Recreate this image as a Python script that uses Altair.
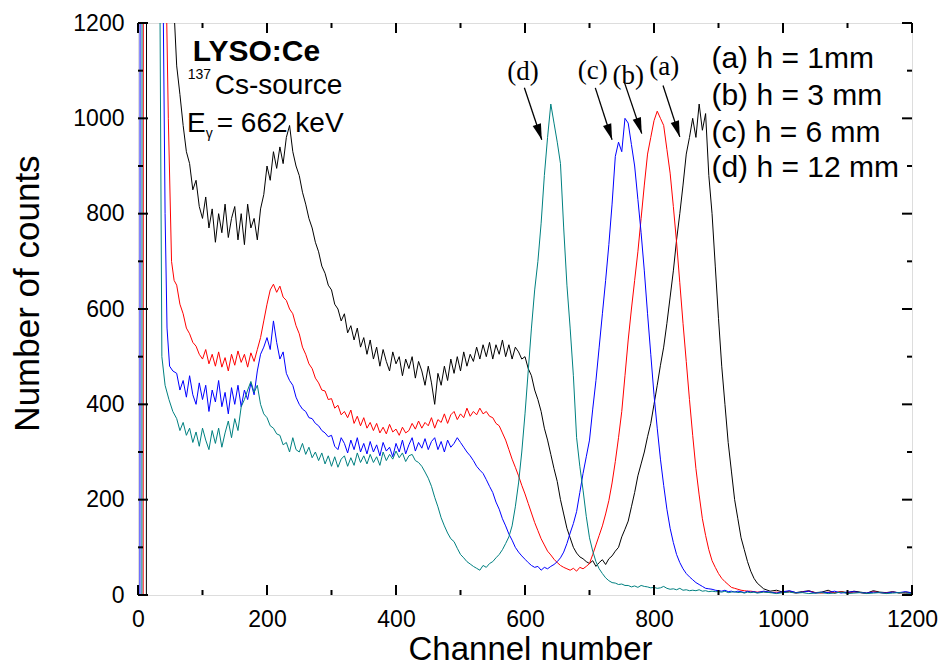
import altair as alt
import pandas as pd

FONT = "Liberation Sans"
SERIF = "Liberation Serif"

SERIES = ["a", "b", "c", "d"]
COLORS = ["#000000", "#ff0000", "#0000ff", "#008080"]

# channel grid after the low-energy rise: fine (5) up to 955, then coarse (10)
GRID = list(range(60, 960, 5)) + list(range(960, 1201, 10))

# (a) h = 1 mm  (black)
A_HEAD_CH = [0, 13, 14, 40, 50, 55]
A_HEAD = [0, 0, 6000, 2500, 1500, 1250]
A_COUNTS = [
    1110, 1050, 985, 930, 905, 850, 870, 815, 790, 835, 770, 810, 740, 800, 760, 820, 750, 790, 815, 745,
    800, 735, 820, 770, 790, 745, 810, 840, 900, 870, 930, 895, 940, 905, 960, 985, 930, 900, 880, 845,
    820, 790, 770, 740, 720, 690, 675, 650, 640, 610, 600, 575, 590, 550, 565, 535, 560, 520, 540, 505,
    535, 495, 520, 480, 515, 490, 470, 510, 485, 500, 460, 495, 475, 500, 455, 490, 470, 440, 480, 445,
    400, 465, 440, 480, 450, 495, 465, 500, 470, 510, 480, 505, 490, 520, 495, 525, 500, 530, 495, 525,
    505, 535, 500, 525, 495, 520, 510, 495, 500, 475, 460, 430, 410, 385, 350, 325, 295, 265, 238, 200,
    170, 140, 120, 100, 88, 80, 76, 70, 66, 72, 60, 68, 74, 64, 76, 82, 92, 100, 122, 138,
    155, 185, 215, 250, 275, 300, 332, 360, 400, 440, 482, 520, 570, 625, 680, 745, 800, 860, 925, 960,
    1000, 960, 1030, 975, 1010, 880, 800, 690, 580, 480, 400, 320, 260, 200, 160, 120, 95, 70, 50, 35,
    25, 13, 8, 10, 6, 8, 5, 7, 9, 5, 6, 10, 4, 7, 5, 8, 6, 4, 9, 6, 5, 7, 4, 6, 5]

# (b) h = 3 mm  (red)
B_HEAD_CH = [0, 8, 9, 35, 44, 47, 52, 56]
B_HEAD = [0, 0, 6000, 2500, 1250, 1000, 700, 660]
B_COUNTS = [
    650, 610, 590, 560, 548, 530, 522, 505, 495, 515, 485, 505, 480, 510, 478, 498, 470, 505, 482, 512,
    488, 505, 478, 508, 490, 515, 540, 575, 610, 640, 652, 635, 648, 625, 618, 600, 590, 565, 548, 520,
    505, 485, 475, 455, 445, 430, 428, 410, 412, 392, 398, 378, 385, 372, 388, 360, 375, 355, 372, 350,
    362, 345, 360, 340, 352, 338, 358, 342, 348, 335, 352, 340, 345, 360, 348, 365, 350, 362, 355, 372,
    350, 368, 362, 380, 360, 378, 385, 368, 380, 372, 392, 375, 385, 378, 392, 380, 385, 375, 372, 360,
    355, 340, 325, 305, 285, 268, 250, 230, 212, 192, 172, 152, 135, 118, 105, 92, 84, 75, 68, 62,
    58, 55, 52, 56, 50, 58, 55, 60, 66, 85, 105, 125, 145, 170, 198, 235, 280, 330, 385, 460,
    535, 600, 660, 720, 790, 860, 925, 960, 995, 1015, 1000, 985, 935, 885, 815, 740, 655, 570, 490, 410,
    335, 265, 210, 160, 125, 95, 72, 58, 45, 35, 28, 22, 16, 14, 12, 10, 9, 8, 8, 7,
    6, 7, 5, 6, 5, 7, 4, 6, 8, 5, 4, 6, 5, 7, 4, 6, 5, 3, 7, 5, 4, 6, 5, 4, 5]

# (c) h = 6 mm  (blue)
C_HEAD_CH = [0, 3, 4, 30, 39, 42, 45, 49, 54]
C_HEAD = [0, 0, 6000, 2500, 1250, 800, 560, 480, 470]
C_COUNTS = [
    465, 430, 450, 415, 460, 420, 400, 445, 410, 440, 385, 430, 405, 450, 395, 425, 380, 435, 400, 440,
    395, 430, 410, 445, 420, 470, 505, 520, 540, 515, 575, 530, 495, 510, 465, 450, 440, 415, 400, 390,
    385, 372, 370, 360, 355, 345, 340, 332, 335, 312, 305, 330, 318, 298, 325, 305, 330, 300, 318, 296,
    322, 300, 315, 292, 320, 302, 310, 290, 318, 300, 325, 296, 315, 330, 302, 320, 308, 328, 305, 322,
    330, 305, 322, 300, 325, 310, 318, 330, 320, 310, 300, 292, 282, 270, 262, 255, 242, 228, 215, 195,
    180, 160, 145, 128, 115, 100, 90, 82, 75, 68, 62, 58, 60, 52, 58, 55, 60, 64, 70, 78,
    90, 108, 130, 150, 175, 215, 255, 290, 325, 390, 450, 520, 590, 660, 735, 820, 920, 950, 930, 1000,
    990, 945, 900, 830, 760, 680, 590, 505, 420, 350, 285, 230, 180, 140, 110, 85, 68, 55, 45, 38,
    32, 26, 22, 18, 14, 13, 12, 10, 9, 8, 10, 7, 8, 6, 8, 7, 5, 8, 6, 7,
    5, 8, 6, 4, 7, 9, 5, 6, 8, 4, 6, 5, 8, 4, 6, 7, 5, 4, 6, 5, 4, 6, 5, 7, 4]

# (d) h = 12 mm  (teal)
D_HEAD_CH = [0, 6, 7, 25, 34, 37, 42, 48, 54]
D_HEAD = [0, 0, 6000, 2500, 1250, 500, 440, 410, 385]
D_COUNTS = [
    370, 345, 362, 335, 350, 320, 342, 312, 350, 325, 305, 345, 318, 350, 310, 340, 365, 330, 370, 345,
    395, 410, 430, 448, 425, 440, 400, 380, 372, 355, 350, 338, 335, 315, 320, 300, 330, 305, 300, 318,
    295, 310, 288, 300, 282, 298, 275, 292, 270, 290, 268, 285, 292, 270, 288, 272, 298, 278, 292, 275,
    295, 278, 290, 272, 300, 282, 295, 285, 302, 288, 298, 280, 292, 295, 282, 278, 270, 258, 245, 228,
    205, 185, 162, 145, 130, 118, 112, 98, 85, 78, 70, 65, 60, 56, 52, 62, 58, 66, 70, 78,
    85, 95, 108, 122, 145, 185, 235, 300, 380, 470, 560, 640, 700, 780, 880, 960, 1030, 990, 950, 905,
    770, 650, 560, 460, 330, 270, 220, 165, 120, 92, 70, 55, 45, 36, 30, 26, 25, 22, 23, 20,
    20, 17, 19, 16, 20, 18, 17, 15, 16, 14, 15, 18, 14, 12, 13, 11, 14, 10, 11, 9,
    10, 9, 11, 8, 9, 7, 8, 7, 7, 6, 8, 5, 6, 7, 5, 6, 4, 6, 5, 6,
    4, 6, 5, 3, 5, 6, 4, 5, 3, 4, 5, 3, 4, 6, 3, 4, 5, 3, 4, 5, 3, 4, 5, 4, 3]

# tick positions
X_MAJOR = [0, 200, 400, 600, 800, 1000, 1200]
X_MINOR = [100, 300, 500, 700, 900, 1100]
Y_MAJOR = [0, 200, 400, 600, 800, 1000, 1200]
Y_MINOR = [100, 300, 500, 700, 900, 1100]

# annotation texts (data coordinates)
LEGEND_TEXT = ["(a) h = 1mm", "(b) h = 3 mm", "(c) h = 6 mm", "(d) h = 12 mm"]
LEGEND_X = [889, 889, 889, 889]
LEGEND_Y = [1106, 1028, 951, 876]

TAG_TEXT = ["(d)", "(c)", "(b)", "(a)"]
TAG_X = [597, 705, 760, 816]
TAG_Y = [1080, 1083, 1073, 1090]

ARROW_X = [599, 709, 754, 814]
ARROW_Y = [1064, 1064, 1076, 1069]
ARROW_X2 = [626, 735, 781, 840]
ARROW_Y2 = [955, 955, 968, 961]

BIG_TEXT = ["Cs-source", "E", "= 662 keV"]
BIG_X = [119, 76, 122]
BIG_Y = [1052, 971, 971]
SMALL_TEXT = ["137", "\u03b3"]
SMALL_X = [77, 105]
SMALL_Y = [1082, 958]
TITLE_TEXT = ["LYSO:Ce"]
TITLE_X = [85]
TITLE_Y = [1120]

rows = []
for key, hc, hv, vals in [("a", A_HEAD_CH, A_HEAD, A_COUNTS),
                          ("b", B_HEAD_CH, B_HEAD, B_COUNTS),
                          ("c", C_HEAD_CH, C_HEAD, C_COUNTS),
                          ("d", D_HEAD_CH, D_HEAD, D_COUNTS)]:
    for c, v in zip(hc + GRID, hv + vals):
        rows.append({"series": key, "channel": c, "counts": v})
spec = pd.DataFrame(rows)

W, H = 774, 572
xs = alt.Scale(domain=[0, 1200], nice=False, zero=False)
ys = alt.Scale(domain=[0, 1200], nice=False, zero=False)

x_axis = alt.Axis(values=X_MAJOR, format="d", labelFlush=False, labelOverlap=False,
                  ticks=False, tickSize=0, domain=False, grid=False,
                  labelFont=FONT, labelFontSize=23, labelPadding=13, labelColor="black",
                  title="Channel number", titleFont=FONT, titleFontSize=33,
                  titleFontWeight="normal", titleColor="black", titleX=392, titleY=64,
                  titleBaseline="alphabetic", titleAlign="center")
y_axis = alt.Axis(values=Y_MAJOR, format="d", labelFlush=False, labelOverlap=False,
                  ticks=False, tickSize=0, domain=False, grid=False,
                  labelFont=FONT, labelFontSize=23, labelPadding=14, labelColor="black",
                  title="Number of counts", titleFont=FONT, titleFontSize=35,
                  titleFontWeight="normal", titleColor="black", titleX=-100, titleY=270,
                  titleBaseline="alphabetic", titleAlign="center", titleAngle=270)


def X(field):
    return alt.X(field, type="quantitative", scale=xs, axis=x_axis)


def Y(field):
    return alt.Y(field, type="quantitative", scale=ys, axis=y_axis)


lines = alt.Chart(spec).mark_line(strokeWidth=1, clip=True).encode(
    x=X("channel"),
    y=Y("counts"),
    color=alt.Color("series:N", scale=alt.Scale(domain=SERIES, range=COLORS), legend=None),
)


def xticks(vals, y0, y1):
    return alt.Chart(pd.DataFrame({"channel": vals})).mark_rule(strokeWidth=2, color="black").encode(
        x=X("channel"), y=alt.value(y0), y2=alt.value(y1))


def yticks(vals, x0, x1):
    return alt.Chart(pd.DataFrame({"counts": vals})).mark_rule(strokeWidth=2, color="black").encode(
        y=Y("counts"), x=alt.value(x0), x2=alt.value(x1))


tick_layers = [
    xticks(X_MAJOR, H, H - 10), xticks(X_MINOR, H, H - 5),
    xticks(X_MAJOR, 0, 10), xticks(X_MINOR, 0, 5),
    yticks(Y_MAJOR, 0, 10), yticks(Y_MINOR, 0, 5),
    yticks(Y_MAJOR, W, W - 10), yticks(Y_MINOR, W, W - 5),
]


def text_layer(texts, xv, yv, size, font=FONT, weight="normal", align="left"):
    df = pd.DataFrame({"t": texts, "channel": xv, "counts": yv})
    return alt.Chart(df).mark_text(font=font, fontSize=size, fontWeight=weight, align=align,
                                   baseline="alphabetic", color="black").encode(
        x=X("channel"), y=Y("counts"), text="t:N")


arrows_df = pd.DataFrame({"channel": ARROW_X, "counts": ARROW_Y,
                          "channel2": ARROW_X2, "counts2": ARROW_Y2})
arrow_lines = alt.Chart(arrows_df).mark_rule(strokeWidth=1.3, color="black").encode(
    x=X("channel"), y=Y("counts"), x2="channel2:Q", y2="counts2:Q")
heads_df = pd.DataFrame({"channel": ARROW_X2, "counts": ARROW_Y2})
arrow_heads = alt.Chart(heads_df).mark_point(
    shape="M0,0L0.27,1L-0.27,1Z", filled=True, size=1024, angle=162,
    color="black", opacity=1, strokeWidth=0).encode(x=X("channel"), y=Y("counts"))

chart = alt.layer(
    lines,
    *tick_layers,
    arrow_lines,
    arrow_heads,
    text_layer(LEGEND_TEXT, LEGEND_X, LEGEND_Y, 30),
    text_layer(TAG_TEXT, TAG_X, TAG_Y, 27, font=SERIF, align="center"),
    text_layer(BIG_TEXT, BIG_X, BIG_Y, 28),
    text_layer(SMALL_TEXT, SMALL_X, SMALL_Y, 14),
    text_layer(TITLE_TEXT, TITLE_X, TITLE_Y, 30, weight="bold"),
).properties(
    width=W, height=H,
    autosize=alt.AutoSizeParams(type="none"),
    padding={"left": 138, "top": 23, "right": 36, "bottom": 70},
    background="white",
).configure_view(stroke="black", strokeWidth=2).configure(font=FONT)

chart.save("out.html", embed_options={"renderer": "svg", "actions": False})
